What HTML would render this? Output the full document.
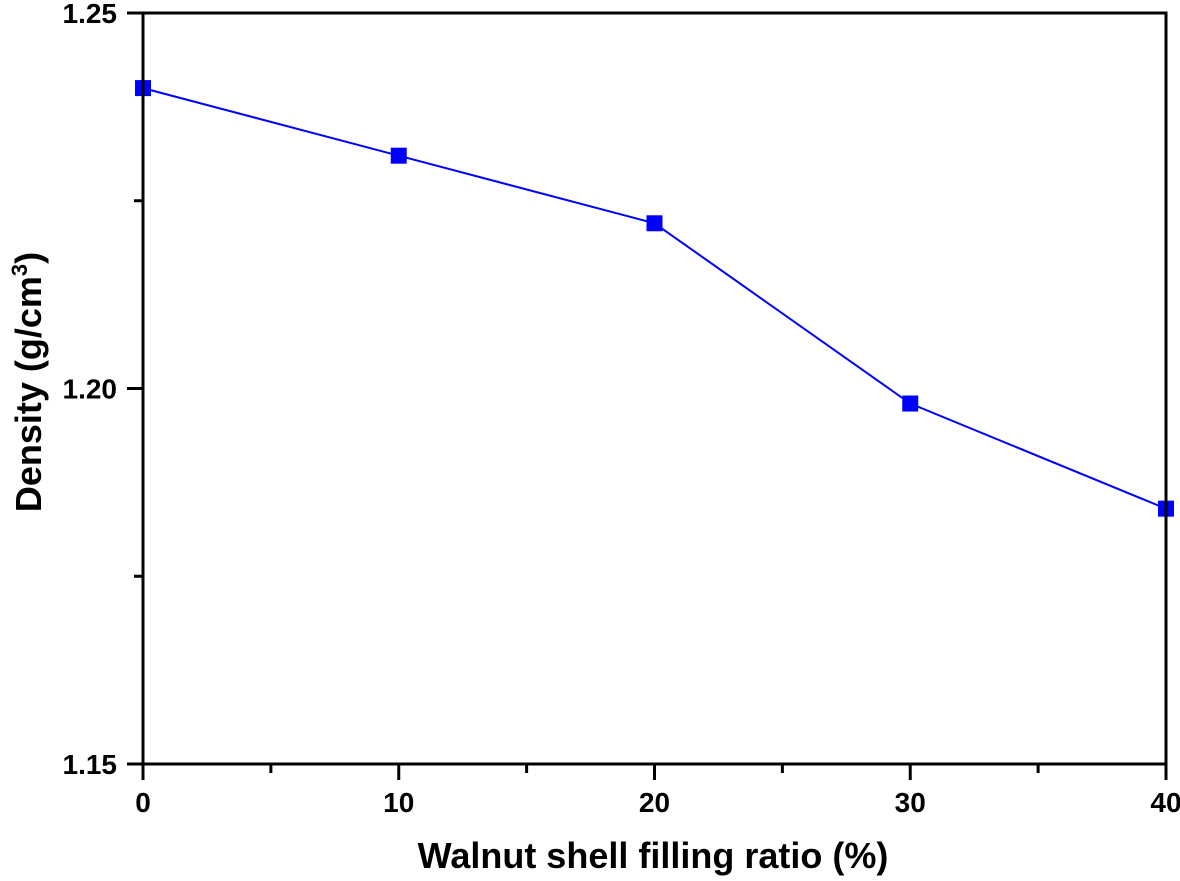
<!DOCTYPE html>
<html><head><meta charset="utf-8"><style>
html,body{margin:0;padding:0;background:#fff;}
svg text{font-family:"Liberation Sans",Arial,sans-serif;font-weight:bold;fill:#000;}
</style></head><body>
<svg id="chart" width="1180" height="876" xmlns="http://www.w3.org/2000/svg">
<g id="marks"></g>
<g id="axes"></g>
</svg>
<script>
const categories = [0, 10, 20, 30, 40];
const densityValues = [1.240, 1.231, 1.222, 1.198, 1.184];
const xTickLabels = ["0", "10", "20", "30", "40"];
const yTickLabels = ["1.15", "1.20", "1.25"];
const yTickValues = [1.15, 1.20, 1.25];

const L = 143, R = 1166, T = 13, B = 764;
const xMin = 0, xMax = 40, yMin = 1.15, yMax = 1.25;
function xs(v){ return L + (v - xMin) / (xMax - xMin) * (R - L); }
function ys(v){ return B - (v - yMin) / (yMax - yMin) * (B - T); }
const NS = "http://www.w3.org/2000/svg";
function mk(tag, attrs, parent){
  const e = document.createElementNS(NS, tag);
  for (const k in attrs) e.setAttribute(k, attrs[k]);
  parent.appendChild(e); return e;
}
const axes = document.getElementById('axes');
const marks = document.getElementById('marks');

const frame = mk('rect', {x:L, y:T, width:R-L, height:B-T, fill:'none', stroke:'#000', 'stroke-width':3}, axes);



for (let v = 0; v <= 40; v += 5) {
  const major = v % 10 === 0;
  const t = mk('line', {x1:xs(v), x2:xs(v), y1:B, y2:B + (major ? 16 : 9), stroke:'#000', 'stroke-width':3}, axes);
  
  
}
xTickLabels.forEach((lab, i) => {
  const t = mk('text', {x:xs(categories[i]), y:812, 'text-anchor':'middle', style:'font-size:28px'}, axes);
  t.textContent = lab;
  
  
});
for (let k = 0; k <= 4; k++) {
  const v = yMin + k * 0.025;
  const major = k % 2 === 0;
  const t = mk('line', {x1:L - (major ? 16 : 9), x2:L, y1:ys(v), y2:ys(v), stroke:'#000', 'stroke-width':3}, axes);
  
  
}
yTickLabels.forEach((lab, i) => {
  const t = mk('text', {x:L - 26, y:ys(yTickValues[i]) + 10, 'text-anchor':'end', style:'font-size:28px'}, axes);
  t.textContent = lab;
  
  
});
const xt = mk('text', {x:653, y:868, 'text-anchor':'middle', style:'font-size:36px'}, axes);
xt.textContent = 'Walnut shell filling ratio (%)';


const yt = mk('text', {x:0, y:0, 'text-anchor':'middle', style:'font-size:36px', transform:'translate(41,382) rotate(-90)'}, axes);
yt.innerHTML = 'Density (g/cm<tspan dy="-14" style="font-size:22px">3</tspan><tspan dy="14">)</tspan>';



const pts = categories.map((c, i) => xs(c) + ',' + ys(densityValues[i])).join(' ');
const line = mk('polyline', {points:pts, fill:'none', stroke:'#0000ff', 'stroke-width':2}, marks);


categories.forEach((c, i) => {
  const m = mk('rect', {x:xs(c) - 8, y:ys(densityValues[i]) - 8, width:16, height:16, fill:'#0000ff'}, marks);
  
  
});
</script>
</body></html>
